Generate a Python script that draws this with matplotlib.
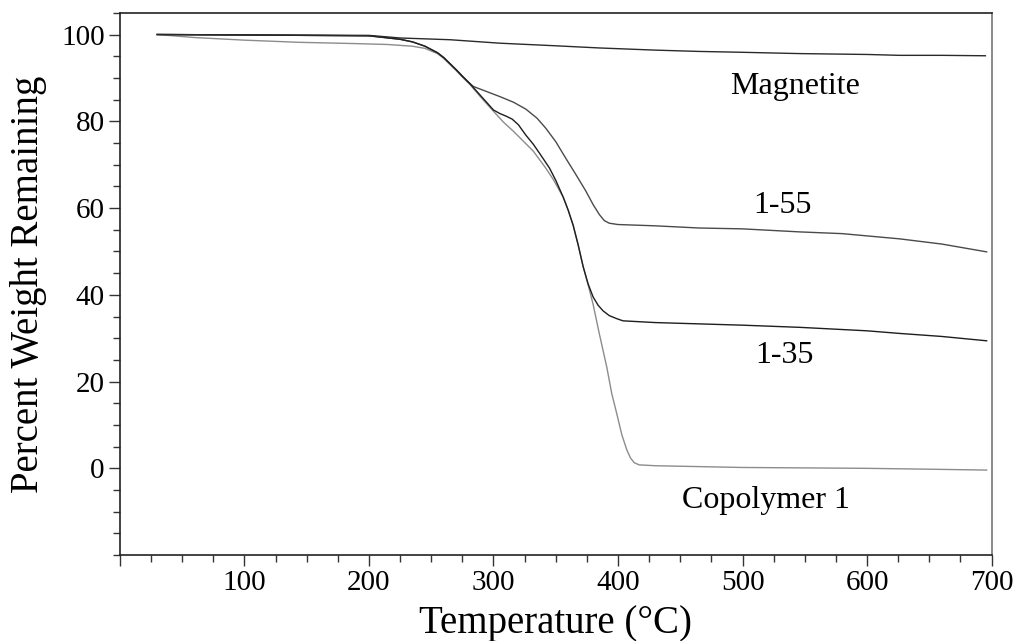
import matplotlib
matplotlib.use("Agg")
import matplotlib.pyplot as plt
from matplotlib.ticker import MultipleLocator

plt.rcParams['font.family'] = ['Liberation Serif', 'DejaVu Serif']

# TGA traces, temperature in C and weight remaining in %
mag_t = [30, 100, 200, 225, 265, 305, 350, 385, 430, 465, 500, 546, 600, 626, 660, 695]
mag_w = [100, 99.9, 99.8, 99.2, 98.8, 98.0, 97.4, 96.9, 96.4, 96.1, 95.9, 95.6, 95.4, 95.2, 95.2, 95.1]

# 1-55
s55_t = [30, 100, 200, 225, 235, 245, 255, 260, 265, 270, 275, 281, 284, 295, 305, 316,
         326, 335, 342, 350, 358, 366, 374, 380, 385, 389, 393, 400, 430, 465, 500, 546,
         580, 626, 660, 696]
s55_w = [100, 99.9, 99.7, 98.9, 98.3, 97.3, 95.8, 94.7, 93.3, 91.9, 90.4, 88.7, 88.0,
         86.8, 85.7, 84.4, 82.8, 80.7, 78.4, 75.3, 71.5, 67.8, 64.0, 60.8, 58.5, 57.1,
         56.5, 56.2, 55.9, 55.4, 55.2, 54.5, 54.1, 52.9, 51.7, 49.9]

# 1-35
s35_t = [30, 100, 200, 225, 235, 245, 255, 260, 265, 270, 275, 281, 290, 300, 305, 310,
         315, 320, 326, 332, 338, 345, 350, 356, 360, 364, 368, 372, 376, 380, 384,
         388, 393, 399, 404, 430, 465, 500, 546, 600, 626, 660, 696]
s35_w = [100, 99.9, 99.7, 98.9, 98.3, 97.3, 95.8, 94.7, 93.3, 91.9, 90.4, 88.7, 85.8,
         82.6, 81.8, 81.2, 80.5, 79.2, 76.8, 74.7, 72.2, 69.2, 66.4, 62.5, 59.5, 56.0,
         51.5, 46.5, 42.5, 39.5, 37.6, 36.3, 35.2, 34.5, 34.0, 33.6, 33.3, 33.0, 32.5,
         31.7, 31.1, 30.4, 29.4]

# Copolymer 1
cop_t = [30, 60, 100, 144, 190, 215, 235, 245, 255, 260, 265, 270, 275, 281, 290, 300,
         308, 316, 324, 332, 342, 348, 356, 360, 364, 368, 372, 376, 380, 385, 391, 395,
         399, 403, 407, 410, 413, 417, 430, 465, 500, 550, 600, 650, 696]
cop_w = [100, 99.3, 98.7, 98.2, 97.9, 97.7, 97.3, 96.8, 95.6, 94.5, 93.1, 91.7, 90.2,
         88.5, 85.5, 82.3, 79.8, 77.7, 75.4, 73.1, 69.2, 66.6, 62.5, 59.5, 56.0, 51.5,
         46.5, 42.3, 37.8, 31.0, 23.3, 17.2, 12.6, 7.8, 4.3, 2.4, 1.3, 0.8, 0.6, 0.4,
         0.2, 0.1, 0.0, -0.2, -0.4]

labels = ['Magnetite', '1-55', '1-35', 'Copolymer 1']
label_t = [542, 532, 534, 519]
label_w = [88, 60.5, 26, -7.4]

fig = plt.figure(figsize=(10.16, 6.41), dpi=100)
ax = fig.add_axes([0.118, 0.134, 0.858, 0.846])

ax.plot(cop_t, cop_w, color='#8c8c8c', lw=1.0)
ax.plot(s55_t, s55_w, color='#4a4a4a', lw=1.0)
ax.plot(s35_t, s35_w, color='#1e1e1e', lw=1.0)
ax.plot(mag_t, mag_w, color='#2a2a2a', lw=1.0)

for name, t, w in zip(labels, label_t, label_w):
    ax.text(t, w, name, ha='center', va='center', fontsize=23)

ax.set_xlim(0, 700)
ax.set_ylim(-20, 105)
ax.set_xticks([0, 100, 200, 300, 400, 500, 600, 700])
ax.set_xticklabels(['', '100', '200', '300', '400', '500', '600', '700'])
ax.xaxis.set_minor_locator(MultipleLocator(25))
ax.set_yticks([0, 20, 40, 60, 80, 100])
ax.yaxis.set_minor_locator(MultipleLocator(5))

ax.tick_params(which='both', direction='out', colors='#333333', labelcolor='black',
               labelsize=21, width=1.0)
ax.tick_params(which='major', length=8, pad=3)
ax.tick_params(which='minor', length=5)

for side in ['left', 'bottom', 'top']:
    ax.spines[side].set_color('#222222')
ax.spines['right'].set_color('#777777')
for sp in ax.spines.values():
    sp.set_linewidth(1.2)

ax.set_xlabel('Temperature (°C)', fontsize=28, labelpad=6)
ax.set_ylabel('Percent Weight Remaining', fontsize=28, labelpad=10)

fig.savefig('out.png', dpi=100)
